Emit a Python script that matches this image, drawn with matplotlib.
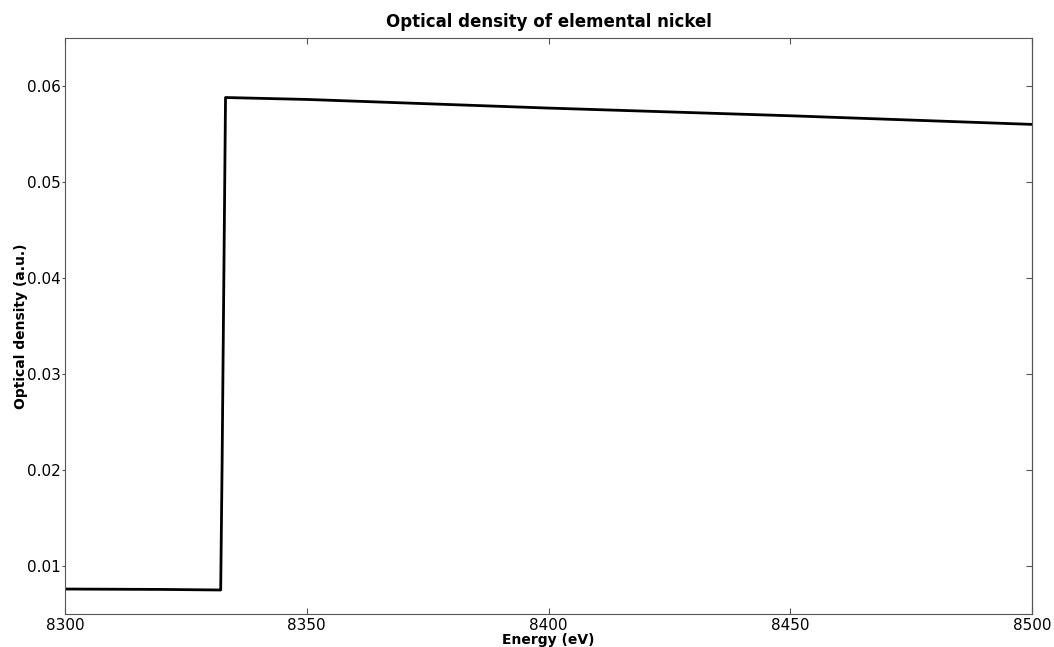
import numpy as np
import matplotlib
matplotlib.use("Agg")
import matplotlib.pyplot as plt

# energy (eV) and optical density
energy = [8300, 8310, 8320, 8332.2, 8332.5, 8333.2, 8350, 8400, 8450, 8500]
od = [0.0076, 0.00758, 0.00756, 0.0075, 0.021, 0.0588, 0.0586, 0.0577, 0.0569, 0.0560]

fig = plt.figure(figsize=(10.54, 6.47), dpi=100)
ax = fig.add_axes([65 / 1054, 1 - 614 / 647, (1032 - 65) / 1054, (614 - 38) / 647])

ax.plot(energy, od, color="black", lw=2)
ax.set_xlim(8300, 8500)
ax.set_ylim(0.005, 0.065)
ax.set_xticks([8300, 8350, 8400, 8450, 8500])
ax.set_yticks([0.01, 0.02, 0.03, 0.04, 0.05, 0.06])

ax.set_title("Optical density of elemental nickel", fontsize=12, fontweight="bold", pad=8)
ax.set_xlabel("Energy (eV)", fontsize=10, fontweight="bold", labelpad=0)
ax.set_ylabel("Optical density (a.u.)", fontsize=10, fontweight="bold", labelpad=-1)

for s in ax.spines.values():
    s.set_color("#555555")
ax.tick_params(axis="x", direction="in", top=True, length=4, color="#555555", labelsize=11, pad=3)
ax.tick_params(axis="y", direction="out", length=2, color="#555555", labelsize=11, pad=1)

right = ax.secondary_yaxis("right")
right.set_yticks([0.01, 0.02, 0.03, 0.04, 0.05, 0.06])
right.tick_params(direction="in", length=4, color="#555555", labelright=False)
right.spines["right"].set_color("#555555")

fig.savefig("out.png", dpi=100)
